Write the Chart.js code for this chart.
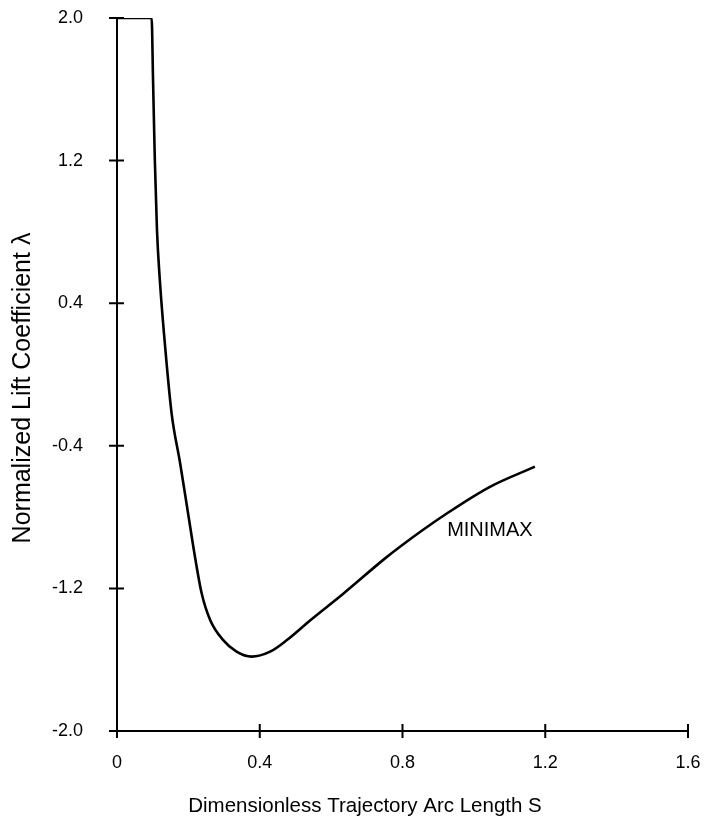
<!DOCTYPE html>
<html>
<head>
<meta charset="utf-8">
<script src="https://cdn.jsdelivr.net/npm/chart.js@4"></script>
<style>
  html, body { margin: 0; padding: 0; background: #fff; }
  #wrap { width: 715px; height: 823px; }
</style>
</head>
<body>
<div id="wrap"><canvas id="liftChart"></canvas></div>
<script>
// values (S, lambda)
const arcLength = [0, 0.097, 0.101, 0.106, 0.112, 0.120, 0.132, 0.153, 0.177, 0.199, 0.220, 0.237, 0.261, 0.297, 0.335, 0.377, 0.429, 0.476, 0.541, 0.634, 0.746, 0.793, 0.924, 1.045, 1.171];
const liftCoeff = [2.0, 2.0, 1.652, 1.203, 0.811, 0.530, 0.222, -0.218, -0.499, -0.777, -1.041, -1.226, -1.377, -1.489, -1.555, -1.583, -1.555, -1.49, -1.38, -1.23, -1.04, -0.966, -0.78, -0.63, -0.517];
const xTicks = [0, 0.4, 0.8, 1.2, 1.6];
const yTicks = [-2.0, -1.2, -0.4, 0.4, 1.2, 2.0];
const xTitle = 'Dimensionless Trajectory Arc Length S';
const yTitle = 'Normalized Lift Coefficient \u03bb';
const curveLabel = 'MINIMAX';
const curveLabelAt = [1.045, -0.875];

const FONT = '"Liberation Sans", Arial, Helvetica, sans-serif';

// ticks that cross the axis lines, plus titles and the curve label
const decorations = {
    id: 'decorations',
    afterDraw(chart) {
        const { ctx, chartArea, scales } = chart;
        ctx.save();
        ctx.strokeStyle = '#000';
        ctx.lineWidth = 2;
        ctx.beginPath();
        xTicks.forEach(v => {
            const px = scales.x.getPixelForValue(v);
            ctx.moveTo(px, chartArea.bottom - 7);
            ctx.lineTo(px, chartArea.bottom + 7);
        });
        yTicks.forEach(v => {
            const py = scales.y.getPixelForValue(v);
            ctx.moveTo(chartArea.left - 8, py);
            ctx.lineTo(chartArea.left + 7, py);
        });
        ctx.stroke();

        ctx.fillStyle = '#000';
        ctx.textAlign = 'center';
        ctx.textBaseline = 'middle';

        ctx.font = '20.5px ' + FONT;
        ctx.fillText(xTitle, 365, 806);

        ctx.save();
        ctx.translate(23, 388);
        ctx.rotate(-Math.PI / 2);
        ctx.font = '25px ' + FONT;
        ctx.fillText(yTitle, 0, 0);
        ctx.restore();

        ctx.font = '20px ' + FONT;
        ctx.fillText(curveLabel,
            scales.x.getPixelForValue(curveLabelAt[0]),
            scales.y.getPixelForValue(curveLabelAt[1]));
        ctx.restore();
    }
};

// invisible tick marks only push the labels away from the axes
const hiddenTicks = len => ({
    display: true,
    drawOnChartArea: false,
    drawTicks: true,
    tickLength: len,
    color: 'rgba(0,0,0,0)'
});

new Chart(document.getElementById('liftChart'), {
    type: 'line',
    data: {
        labels: arcLength,
        datasets: [{
            data: arcLength.map((s, i) => ({ x: s, y: liftCoeff[i] })),
            borderColor: '#000',
            borderWidth: 2.6,
            pointRadius: 0,
            fill: false,
            cubicInterpolationMode: 'monotone'
        }]
    },
    options: {
        responsive: true,
        maintainAspectRatio: false,
        animation: false,
        layout: {
            padding: { left: 0, right: 27, top: 18, bottom: 0 }
        },
        plugins: {
            legend: { display: false },
            tooltip: { enabled: false }
        },
        scales: {
            x: {
                type: 'linear',
                min: 0,
                max: 1.6,
                afterBuildTicks: s => { s.ticks = xTicks.map(v => ({ value: v })); },
                afterFit: s => { s.height = 92; },
                grid: hiddenTicks(18),
                border: { display: true, color: '#000', width: 2 },
                ticks: {
                    color: '#000',
                    padding: 3,
                    maxRotation: 0,
                    font: { family: FONT, size: 18 },
                    callback: v => v === 0 ? '0' : v.toFixed(1)
                }
            },
            y: {
                type: 'linear',
                min: -2,
                max: 2,
                afterBuildTicks: s => { s.ticks = yTicks.map(v => ({ value: v })); },
                afterFit: s => { s.width = 117; },
                grid: hiddenTicks(31),
                border: { display: true, color: '#000', width: 2 },
                ticks: {
                    color: '#000',
                    padding: 3,
                    font: { family: FONT, size: 18 },
                    callback: v => v.toFixed(1)
                }
            }
        }
    },
    plugins: [decorations]
});
</script>
</body>
</html>
